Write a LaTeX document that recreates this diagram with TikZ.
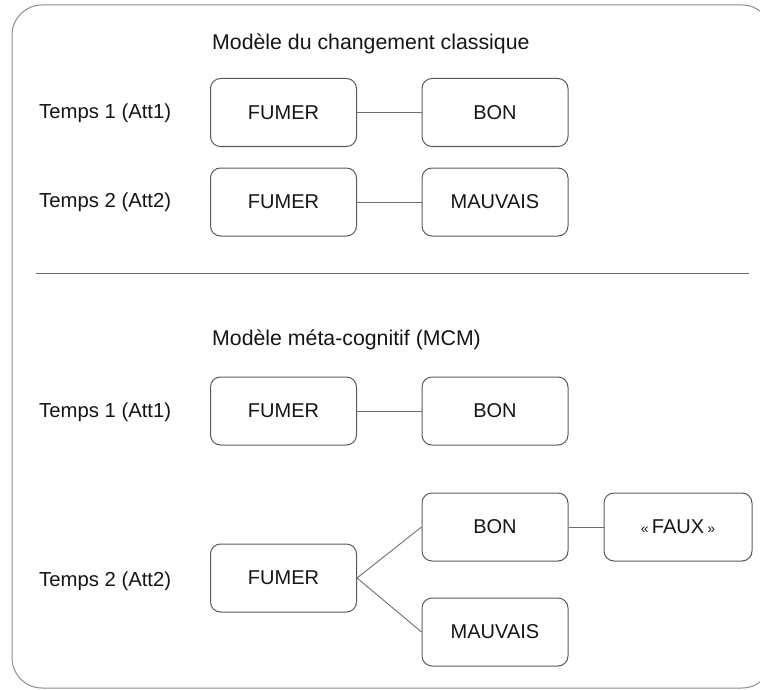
\documentclass[tikz,border=0pt]{standalone}
\usepackage{fontspec}
\setmainfont{Liberation Sans}
\definecolor{boxline}{HTML}{5A5A5A}
\definecolor{outerline}{HTML}{8C8C8C}
\definecolor{conn}{HTML}{6E6E6E}
\definecolor{txt}{HTML}{151515}
\begin{document}
\begin{tikzpicture}[x=1pt,y=-1pt,
  every node/.style={text=txt,font=\fontsize{20}{24}\selectfont},
  termbox/.style={draw=boxline,line width=1pt,rounded corners=10pt,minimum width=146pt,minimum height=68pt,inner sep=0pt},
  rowlabel/.style={anchor=west,inner sep=0pt,font=\fontsize{20.3}{24}\selectfont},
  titlelabel/.style={anchor=west,inner sep=0pt,font=\fontsize{21.3}{25}\selectfont},
  link/.style={draw=conn,line width=0.9pt}]
\useasboundingbox (0,0) rectangle (760,690);
\clip (0,0) rectangle (760,690);
\draw[outerline,line width=1pt,rounded corners=30pt] (12,5) rectangle (772,688);

% Section 1
\node[titlelabel] (t1) at (212,44) {Modèle du changement classique};
\node[rowlabel] (l1) at (39,113) {Temps 1 (Att1)};
\node[rowlabel] (l2) at (39,202) {Temps 2 (Att2)};
\node[termbox] (f1) at (283.5,112.5) {FUMER};
\node[termbox] (b1) at (495,112.5) {BON};
\node[termbox] (f2) at (283.5,202) {FUMER};
\node[termbox] (m2) at (495,202) {MAUVAIS};
\draw[link] (f1) -- (b1);
\draw[link] (f2) -- (m2);

% separator
\coordinate (sepL) at (36,273);
\coordinate (sepR) at (749,273);
\draw[conn,line width=0.9pt] (sepL) -- (sepR);

% Section 2
\node[titlelabel] (t2) at (212,340) {Modèle méta-cognitif (MCM)};
\node[rowlabel] (l3) at (39,412) {Temps 1 (Att1)};
\node[rowlabel] (l4) at (39,581) {Temps 2 (Att2)};
\node[termbox] (f3) at (283.5,411) {FUMER};
\node[termbox] (b3) at (495,411) {BON};
\node[termbox] (f4) at (283.5,578) {FUMER};
\node[termbox] (b4) at (495,527) {BON};
\node[termbox,minimum width=148pt] (x4) at (678,527) {\fontsize{14}{16}\selectfont«\fontsize{20}{24}\selectfont\,FAUX\,\fontsize{14}{16}\selectfont»};
\node[termbox] (m4) at (495,632) {MAUVAIS};
\draw[link] (f3) -- (b3);
\draw[link] (f4.east) -- (b4.west);
\draw[link] (f4.east) -- (m4.west);
\draw[link] (b4) -- (x4);
\end{tikzpicture}
\end{document}
